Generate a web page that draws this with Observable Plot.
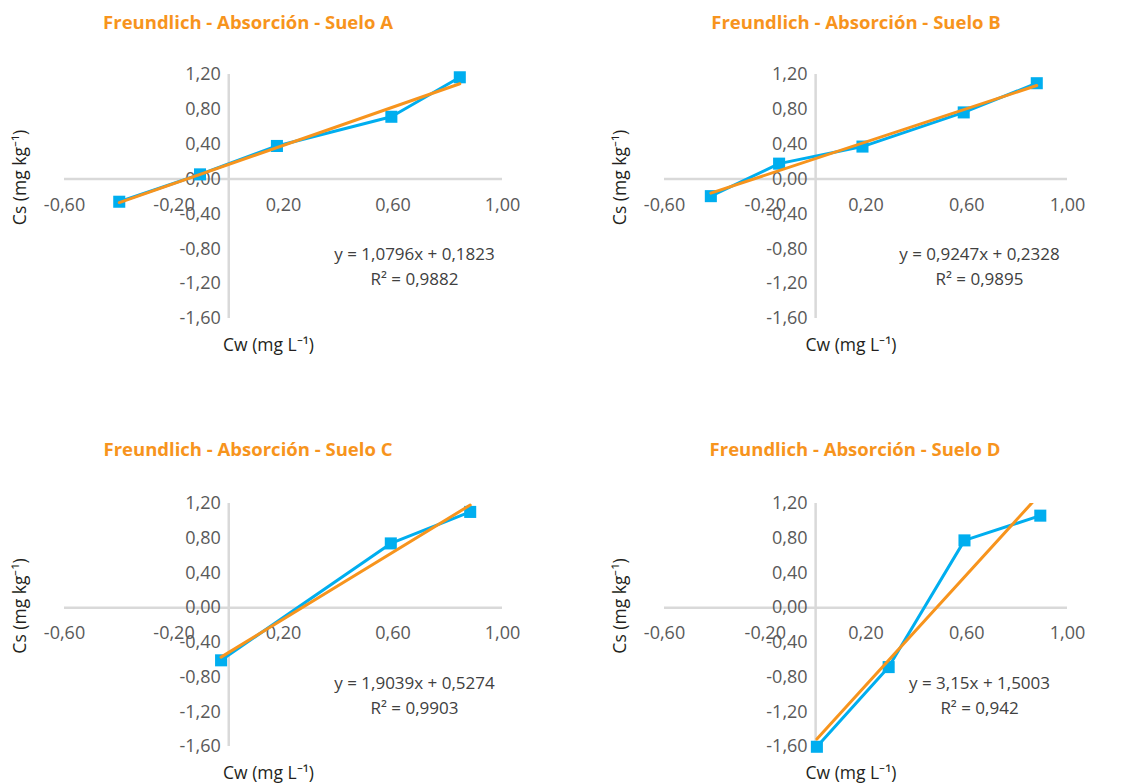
<!DOCTYPE html>
<html>
<head>
<meta charset="utf-8">
<script src="https://cdn.jsdelivr.net/npm/d3@7"></script>
<script src="https://cdn.jsdelivr.net/npm/@observablehq/plot@0.6"></script>
<style>
  html, body { margin: 0; padding: 0; background: #fff; }
  #page { position: relative; width: 1128px; height: 783px; background: #fff; overflow: hidden; }
  .title { position: absolute; width: 400px; text-align: center; font-family: 'Open Sans', sans-serif; font-weight: 700; font-size: 18.5px; line-height: 24px; color: #f7941d; white-space: nowrap; }
  .chart { position: absolute; }
</style>
</head>
<body>
<div id="page"></div>
<script>
// ---- Data ----
const xTicks = [-0.6, -0.2, 0.2, 0.6, 1.0];
const yTicks = [1.2, 0.8, 0.4, 0.0, -0.4, -0.8, -1.2, -1.6];

const soilA_cw = [-0.40, -0.105, 0.176, 0.594, 0.844];
const soilA_cs = [-0.26, 0.054, 0.38, 0.715, 1.168];
const soilB_cw = [-0.416, -0.145, 0.186, 0.588, 0.878];
const soilB_cs = [-0.196, 0.177, 0.373, 0.765, 1.10];
const soilC_cw = [-0.028, 0.592, 0.882];
const soilC_cs = [-0.607, 0.74, 1.103];
const soilD_cw = [0.005, 0.29, 0.591, 0.892];
const soilD_cs = [-1.603, -0.685, 0.775, 1.06];

const titles = [
  "Freundlich - Absorción - Suelo A",
  "Freundlich - Absorción - Suelo B",
  "Freundlich - Absorción - Suelo C",
  "Freundlich - Absorción - Suelo D"
];
const equations = ["y = 1,0796x + 0,1823", "y = 0,9247x + 0,2328", "y = 1,9039x + 0,5274", "y = 3,15x + 1,5003"];
const r2Labels = ["R² = 0,9882", "R² = 0,9895", "R² = 0,9903", "R² = 0,942"];
const xLabel = "Cw (mg L⁻¹)";
const yLabel = "Cs (mg kg⁻¹)";

// ---- Layout ----
const layouts = [
  {left: 0,   top: 45,  w: 564, h: 340, ml: 64,  mr: 62, mt: 29, mb: 67, tx: 248, ty: 10},
  {left: 564, top: 45,  w: 564, h: 340, ml: 100, mr: 61, mt: 29, mb: 67, tx: 856, ty: 10},
  {left: 0,   top: 470, w: 564, h: 313, ml: 64,  mr: 62, mt: 33, mb: 37, tx: 248, ty: 437},
  {left: 564, top: 470, w: 564, h: 313, ml: 100, mr: 61, mt: 33, mb: 37, tx: 855, ty: 437}
];

const series = [
  [soilA_cw, soilA_cs],
  [soilB_cw, soilB_cs],
  [soilC_cw, soilC_cs],
  [soilD_cw, soilD_cs]
];

const fmt = v => d3.format(".2f")(v).replace(".", ",").replace("−", "-");
const FONT = "'Open Sans', sans-serif";
const page = document.getElementById("page");

series.forEach(([cw, cs], k) => {
  const L = layouts[k];
  const data = cw.map((x, i) => ({cw: x, cs: cs[i]}));

  const t = document.createElement("div");
  t.className = "title";
  t.textContent = titles[k];
  t.style.left = (L.tx - 200) + "px";
  t.style.top = L.ty + "px";
  page.appendChild(t);

  const chart = Plot.plot({
    width: L.w, height: L.h,
    marginLeft: L.ml, marginRight: L.mr, marginTop: L.mt, marginBottom: L.mb,
    x: {domain: [-0.6, 1.0], axis: null},
    y: {domain: [-1.6, 1.2], axis: null},
    style: {fontFamily: FONT, fontSize: "18px", background: "transparent", overflow: "visible"},
    marks: [
      Plot.ruleY([0], {stroke: "#d9d9d9", strokeWidth: 2.5}),
      Plot.ruleX([0], {stroke: "#d9d9d9", strokeWidth: 2.5}),
      Plot.text(xTicks, {x: d => d, y: () => 0, dy: 26, text: fmt, fill: "#595959", fontSize: 18, lineAnchor: "middle"}),
      Plot.text(yTicks, {x: () => 0, y: d => d, dx: -8, textAnchor: "end", text: fmt, fill: "#595959", fontSize: 18, lineAnchor: "middle"}),
      Plot.text([xLabel], {text: d => d, frameAnchor: "bottom", textAnchor: "middle", lineAnchor: "middle", dx: -15, dy: 27, fill: "#231f20", fontSize: 17.5}),
      Plot.text([yLabel], {text: d => d, frameAnchor: "left", textAnchor: "middle", lineAnchor: "middle", rotate: -90, dx: -44, dy: -19, fill: "#231f20", fontSize: 17.5}),
      Plot.text([equations[k]], {text: d => d, frameAnchor: "top-right", textAnchor: "middle", lineAnchor: "middle", dx: -88, dy: 180, fill: "#404040", fontSize: 17}),
      Plot.text([r2Labels[k]], {text: d => d, frameAnchor: "top-right", textAnchor: "middle", lineAnchor: "middle", dx: -88, dy: 205, fill: "#404040", fontSize: 17}),
      Plot.line(data, {x: "cw", y: "cs", stroke: "#00aeef", strokeWidth: 3}),
      Plot.dot(data, {x: "cw", y: "cs", symbol: "square", r: 6.8, fill: "#00aeef", stroke: "none"}),
      Plot.linearRegressionY(data, {x: "cw", y: "cs", stroke: "#f7941d", strokeWidth: 3, ci: 0, clip: true})
    ]
  });
  chart.classList.add("chart");
  chart.style.left = L.left + "px";
  chart.style.top = L.top + "px";
  chart.style.position = "absolute";
  page.appendChild(chart);
});
</script>
</body>
</html>
